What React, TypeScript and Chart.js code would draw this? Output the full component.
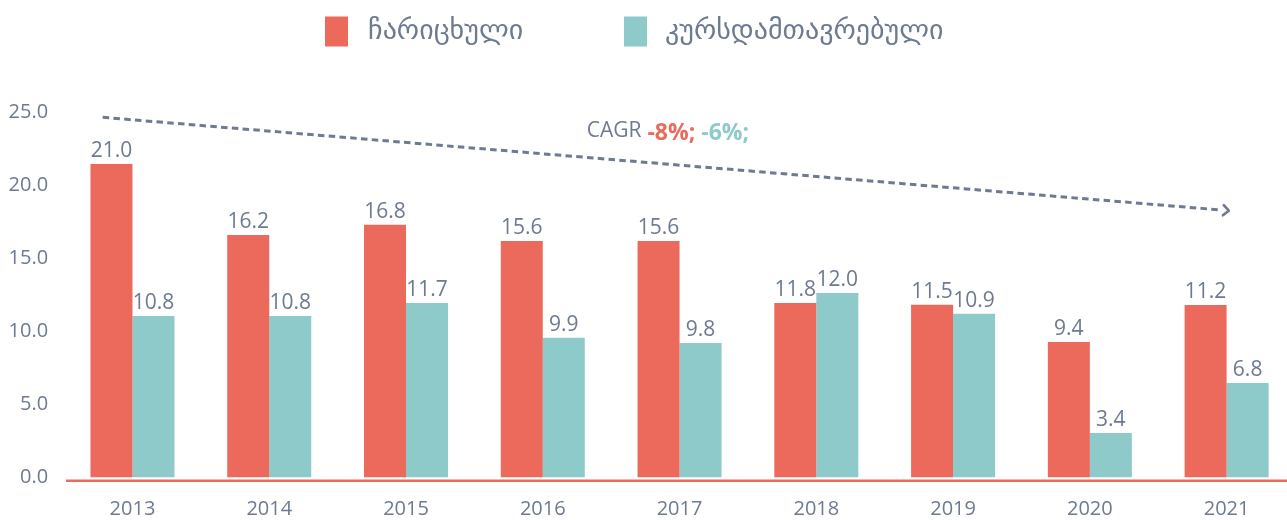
import React, { useEffect, useRef } from "react";
import { Chart, registerables } from "chart.js";

Chart.register(...registerables);

const categories = ["2013", "2014", "2015", "2016", "2017", "2018", "2019", "2020", "2021"];
const seriesNames = ["ჩარიცხული", "კურსდამთავრებული"];
const enrolledValues = [21.46, 16.6, 17.3, 16.19, 16.19, 11.94, 11.83, 9.27, 11.81];
const graduatedValues = [11.05, 11.05, 11.94, 9.57, 9.2, 12.63, 11.21, 3.05, 6.47];
const enrolledLabels = ["21.0", "16.2", "16.8", "15.6", "15.6", "11.8", "11.5", "9.4", "11.2"];
const graduatedLabels = ["10.8", "10.8", "11.7", "9.9", "9.8", "12.0", "10.9", "3.4", "6.8"];
const yMin = 0;
const yMax = 25;
const yStep = 5;
const trendStart = { x: -0.218, y: 24.65 };
const trendEnd = { x: 8.016, y: 18.26 };
const cagrAnchor = { x: 3.321, y: 23.3 };
const cagrParts = ["CAGR", "-8%;", "-6%;"];

const RED = "#EC6A5C";
const TEAL = "#8ECACA";
const GRAY = "#6D7A91";
const FONT = "'Open Sans', 'DejaVu Sans', sans-serif";
const GEO_FONT = "'DejaVu Sans', sans-serif";

const allLabels = [enrolledLabels, graduatedLabels];

const overlayPlugin = {
  id: "overlay",
  afterDatasetsDraw(chart: any) {
    const ctx = chart.ctx;
    const xs = chart.scales.x;
    const ys = chart.scales.y;
    const area = chart.chartArea;

    // zero line
    ctx.save();
    ctx.strokeStyle = RED;
    ctx.lineWidth = 2.5;
    const zy = ys.getPixelForValue(0) + 3.2;
    ctx.beginPath();
    ctx.moveTo(area.left + 2, zy);
    ctx.lineTo(chart.width, zy);
    ctx.stroke();
    ctx.restore();

    // value labels
    ctx.save();
    ctx.font = `21px ${FONT}`;
    ctx.fillStyle = GRAY;
    ctx.textAlign = "center";
    ctx.textBaseline = "alphabetic";
    chart.data.datasets.forEach((ds: any, di: number) => {
      const meta = chart.getDatasetMeta(di);
      meta.data.forEach((bar: any, i: number) => {
        ctx.fillText(allLabels[di][i], bar.x, bar.y - 7);
      });
    });
    ctx.restore();

    // trend arrow
    const x1 = xs.getPixelForValue(trendStart.x);
    const y1 = ys.getPixelForValue(trendStart.y);
    const x2 = xs.getPixelForValue(trendEnd.x);
    const y2 = ys.getPixelForValue(trendEnd.y);
    const ang = Math.atan2(y2 - y1, x2 - x1);
    ctx.save();
    ctx.strokeStyle = GRAY;
    ctx.lineWidth = 3;
    ctx.setLineDash([6.5, 4.3]);
    ctx.beginPath();
    ctx.moveTo(x1, y1);
    ctx.lineTo(x2 - 9 * Math.cos(ang), y2 - 9 * Math.sin(ang));
    ctx.stroke();
    ctx.setLineDash([]);
    ctx.lineWidth = 2.6;
    ctx.lineCap = "round";
    ctx.lineJoin = "round";
    ctx.beginPath();
    const hl = 7.5;
    ctx.moveTo(x2 - hl * Math.cos(ang - 0.75), y2 - hl * Math.sin(ang - 0.75));
    ctx.lineTo(x2, y2);
    ctx.lineTo(x2 - hl * Math.cos(ang + 0.75), y2 - hl * Math.sin(ang + 0.75));
    ctx.stroke();
    ctx.restore();

    // CAGR text
    ctx.save();
    ctx.textBaseline = "alphabetic";
    ctx.textAlign = "left";
    let cx = xs.getPixelForValue(cagrAnchor.x);
    const cy = ys.getPixelForValue(cagrAnchor.y);
    ctx.font = `21px ${FONT}`;
    ctx.fillStyle = GRAY;
    ctx.fillText(cagrParts[0], cx, cy);
    cx += ctx.measureText(cagrParts[0]).width + 6;
    ctx.font = `bold 23px ${FONT}`;
    ctx.fillStyle = RED;
    ctx.fillText(cagrParts[1], cx, cy + 2.5);
    cx += ctx.measureText(cagrParts[1]).width + 6;
    ctx.fillStyle = TEAL;
    ctx.fillText(cagrParts[2], cx, cy + 2.5);
    ctx.restore();

    // legend
    ctx.save();
    ctx.font = `28px ${GEO_FONT}`;
    ctx.textBaseline = "middle";
    ctx.textAlign = "left";
    const items = [
      { box: 325, text: 368 },
      { box: 624, text: 665 },
    ];
    chart.data.datasets.forEach((ds: any, di: number) => {
      ctx.fillStyle = ds.backgroundColor;
      ctx.fillRect(items[di].box, 16.5, 23, 30);
      ctx.fillStyle = GRAY;
      ctx.fillText(ds.label, items[di].text, 31.5);
    });
    ctx.restore();
  },
};

export default function App() {
  const ref = useRef<HTMLCanvasElement | null>(null);
  useEffect(() => {
    if (!ref.current) return;
    const chart = new Chart(ref.current, {
      type: "bar",
      data: {
        labels: categories,
        datasets: [
          {
            label: seriesNames[0],
            data: enrolledValues,
            backgroundColor: RED,
            borderWidth: 0,
            barPercentage: 1,
            categoryPercentage: 0.6143,
          },
          {
            label: seriesNames[1],
            data: graduatedValues,
            backgroundColor: TEAL,
            borderWidth: 0,
            barPercentage: 1,
            categoryPercentage: 0.6143,
          },
        ],
      },
      options: {
        responsive: false,
        animation: false,
        devicePixelRatio: 1,
        layout: { padding: { top: 112.2, left: 0, right: 0, bottom: 0 } },
        plugins: {
          legend: { display: false },
          tooltip: { enabled: false },
        },
        scales: {
          x: {
            grid: { display: false, drawTicks: false },
            border: { display: false },
            ticks: { color: GRAY, font: { family: FONT, size: 20 }, padding: 20 },
            afterFit: (s: any) => {
              s.height = 42.5;
            },
          },
          y: {
            min: yMin,
            max: yMax,
            grid: { display: false, drawTicks: false },
            border: { display: false },
            ticks: {
              stepSize: yStep,
              color: GRAY,
              font: { family: FONT, size: 20 },
              padding: 16,
              callback: (v: any) => Number(v).toFixed(1),
            },
            afterFit: (s: any) => {
              s.width = 64.1;
            },
          },
        },
      },
      plugins: [overlayPlugin],
    });
    return () => chart.destroy();
  }, []);
  return (
    <div
      style={{
        position: "fixed",
        left: 0,
        top: 0,
        width: 1287,
        height: 520,
        overflow: "hidden",
        background: "#fff",
      }}
    >
      <canvas ref={ref} width={1295} height={520} style={{ display: "block", width: 1295, height: 520 }} />
    </div>
  );
}
